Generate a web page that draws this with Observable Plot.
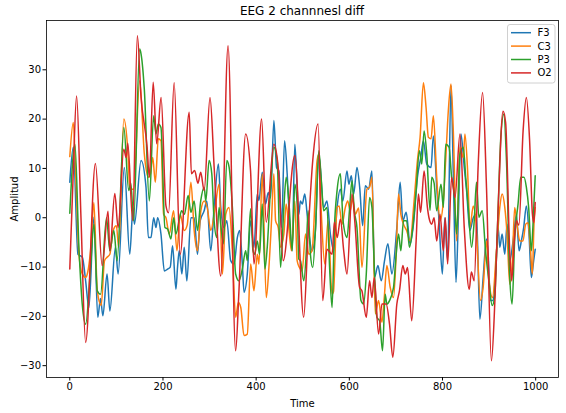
<!DOCTYPE html>
<html>
<head>
<meta charset="utf-8">
<script src="https://cdn.jsdelivr.net/npm/d3@7"></script>
<script src="https://cdn.jsdelivr.net/npm/@observablehq/plot@0.6"></script>
<style>
  body { margin: 0; background: #fff; font-family: "DejaVu Sans", sans-serif; }
  #wrap { position: relative; width: 566px; height: 413px; }
  #title { position: absolute; left: 46px; width: 512px; top: 4px; text-align: center; font-size: 12px; color: #000; }
  #chart { position: absolute; left: 0; top: 20px; }
  #legend { position: absolute; left: 0; top: 0; pointer-events: none; }
</style>
</head>
<body>
<div id="wrap">
  <div id="title">EEG 2 channnesl diff</div>
  <div id="chart"></div>
  <svg id="legend" width="566" height="413"></svg>
</div>
<script>
const seriesNames = ["F3", "C3", "P3", "O2"];
const seriesColors = ["#1f77b4", "#ff7f0e", "#2ca02c", "#d62728"];
const xTicks = [0, 200, 400, 600, 800, 1000];
const yTicks = [-30, -20, -10, 0, 10, 20, 30];

const F3 = [[0,7.2],[7.5,14.3],[17.5,-7.4],[27,-8],[34,-12.8],[41,-18.2],[51.7,0.1],[60,-20.2],[66,-16.4],[71,-19.9],[80,-11.4],[86,-18.9],[98,-6],[103.7,-11.4],[117,10.2],[128.7,-7.4],[135.8,2.1],[138.7,-1.3],[153,11.6],[163.6,6.2],[168.6,-4],[174.3,-4],[180,0],[185,-2],[188.5,0],[195.7,-3.3],[203,-10.8],[210,-10.4],[215.6,-10],[220.6,-5.7],[227.8,-14.5],[231.3,-10],[235,-6.7],[240.6,-11.4],[245.6,-6],[251.3,-12.8],[260,0],[267,0],[274,-7.4],[280,-0.6],[288.4,1.4],[294,3.4],[302.6,-6.7],[309.8,2.1],[319,10.9],[324,2.1],[331,-2],[337,-0.6],[345.4,-8.7],[352.5,-9.4],[359.7,-4],[364.6,-2.6],[370.4,-9.4],[374,-15.1],[381,-11.4],[388.2,-0.6],[395.3,-6],[402.4,4.8],[406,3.5],[413.1,9.2],[420.3,2.8],[426,5.1],[431,4],[438.1,19.7],[443.8,10.2],[448.8,9.5],[454.5,-2],[461,15.6],[466.6,8.9],[471.6,-0.6],[477.3,-6.7],[483,14.9],[488,6.2],[491.6,0.7],[495,3.4],[499,2.8],[504.4,4.8],[509.4,0.7],[514.4,-4],[520.1,-6.7],[527.2,-2.6],[534.4,12.9],[545,2.1],[552,3.4],[559.3,-3.3],[566.5,-6.7],[573.7,2.1],[580.8,5.8],[586,3.4],[595,9.5],[599,6.8],[604.3,8.5],[609.3,4.8],[616.4,10.2],[622.2,6.2],[628.6,-1.6],[634.3,6.5],[641.4,5.8],[648.5,9.5],[654.2,-12.1],[661.4,-9.7],[668.5,-12.8],[675.6,-8.7],[682.8,-5.3],[691.3,-11.4],[702,-2],[709.1,7.2],[714.8,-0.6],[722,1.1],[730.5,-5.3],[737.7,-1.3],[746.2,8.2],[753.3,12.2],[759,15.6],[766.2,10.9],[775.4,10.2],[780.4,16.6],[787.6,6.2],[792.6,-0.6],[799.7,-11.4],[805,0],[811,-8.7],[818.2,26.8],[823.2,8.9],[829,-13.1],[834,0],[839.6,17],[846.7,10.2],[851.7,5.5],[858.8,-2.6],[866,0],[873,0.7],[880.2,-20.6],[887.3,-12.1],[894.5,-4.3],[898,-7.4],[903,-16.8],[908.7,-16.8],[914,-11],[919.4,-2],[923,-6],[928,-3.3],[933.7,-7.4],[938.6,-1.3],[944.4,-8.7],[951.5,-4.7],[958.6,0.7],[964.3,-6.7],[969.3,-4.7],[974.3,-2],[980,2.4],[985.7,-3.3],[990.7,-12.1],[995.7,-8.7],[999,-6.4]];

const C3 = [[0,12.4],[7.5,19.3],[13,8],[19.6,-7.4],[26.7,-11.4],[34,-12.1],[39,-10.8],[44.5,-6.7],[51.7,3.1],[59,-14.8],[67.4,-17.8],[74.5,-8.7],[80,-8],[86,-7.4],[93,-2.6],[100,-1.6],[105,-6],[116,20],[124.5,13.6],[128.7,6.2],[133,5.8],[137,5.8],[150,27.8],[160,12.9],[168.6,8.2],[173,8.8],[178,12.2],[183.6,7.2],[190,16],[195.7,15.6],[201.4,0.7],[206.4,0],[213.5,-3.3],[222.8,1.4],[230,-6.7],[237,0.7],[245.6,-2.6],[252,-1.5],[260,7.2],[267,-2.6],[274,-6.7],[281.3,1.4],[288.4,3.4],[295.5,1.8],[302.6,-2.6],[311,1.4],[320.5,6.8],[327.6,-11.4],[334.7,0.7],[341.8,2.1],[349,-6.7],[356,-20.2],[361.8,-17.2],[367,-18.2],[374,-23.9],[381,-23.6],[388.2,-9.4],[395.3,-14.8],[402.4,-7.4],[406,-9.4],[413.1,8.9],[421.7,-16.2],[427.4,-10.1],[433,-0.6],[438,8.9],[441.7,-0.6],[447.4,-2],[452.4,-6],[459.5,-3.3],[464.5,2.8],[470,-2],[475.9,-6.7],[483,3.4],[488,-8.7],[493,-10.1],[498.7,-10.8],[506,-3.3],[513,-7.4],[520,-6.7],[530.8,11.6],[534.4,12.9],[540,0.7],[547.2,-9.4],[554.3,-0.6],[562.9,-15.5],[566,-15],[573.7,2.1],[578,2.4],[584.4,-1.3],[591.5,2.1],[596.5,3.4],[602,1.4],[607,4],[613,0.7],[620,2],[627.1,-10.1],[637.8,5.8],[643.5,6.2],[648.5,8.2],[655.7,-19.5],[662.8,-16.8],[670,-21.2],[675,-16.2],[680.6,-9.7],[687.7,-14.1],[694.9,-16.2],[700.6,-7.4],[705.6,4.8],[710.6,0.7],[716.3,-1.3],[723,-2.6],[730.5,-4.7],[739,3.4],[746.2,11.6],[751.9,16.3],[759,27.4],[764.7,22.4],[769.7,16.3],[775.4,16],[780.4,20.7],[787.6,8.2],[794.7,-0.6],[801.8,3.4],[806.8,11.6],[812.5,21.7],[818.2,27.1],[823.2,17.6],[830.3,-4.7],[837.5,14.3],[844.6,12.2],[848.2,17],[853.9,9.5],[858.9,-2],[866,2.4],[871.6,-0.6],[881.6,-16.8],[887.3,-14.1],[894.5,-4.7],[900,-12.8],[907.3,-16.2],[915.8,-6.7],[923,2.1],[928,4.8],[933.7,2.1],[938.6,-3.3],[944.4,-13.5],[950,-8.7],[955,2.1],[960,-1.3],[965.8,-4.7],[972.8,-4.7],[978.6,-1.3],[983.6,-1],[988.6,-6],[992.8,-11.4],[996.4,-1.3],[999,2.1]];

const P3 = [[0,0.9],[11,14.9],[19.6,-6],[26.7,-17.5],[34,-21.6],[44.5,-10.1],[51.7,-1.3],[59,-14.8],[66,-15.5],[78.8,0],[86,-6.7],[94.5,-2.6],[101.6,-8.7],[116,18.3],[126.5,5.5],[131,7],[137,-0.6],[150,34.2],[153,33.2],[160,26],[170.7,3.4],[180,20.7],[185,17],[190,19],[195.7,18.3],[204.2,-2],[210,-2.3],[217,-4.3],[223,0],[227.8,-3.3],[235,-0.3],[240,1.4],[246,0.7],[254,4.5],[260,1.1],[267,3.4],[274,-2.6],[281,3.4],[288.4,6.2],[292,3.4],[299,11.6],[304.8,8.9],[309.8,-0.6],[315.5,-4],[320.5,2.1],[324,-1.3],[329.7,-5.3],[337,11.6],[342,10.2],[349,2.1],[356,-11.4],[363.2,-12.8],[370.4,-10.4],[377.5,-6.7],[381,-8.7],[388.2,1.8],[393.2,-6.7],[397,-7.4],[402.4,-4.7],[407.4,-7.4],[413.1,2.8],[418.8,-10.4],[423.8,-6],[431,6.2],[438,14.3],[445.2,11.6],[452.4,-10.1],[459.5,2.1],[464.5,8.2],[470.2,3.4],[477.3,-6.7],[483,6.8],[488,2.8],[491.6,-8.4],[495,-8.7],[502.3,-12.8],[507.3,-7.4],[511.5,1.4],[516.5,-7.4],[521.5,-10.1],[528,-1],[534.4,13.6],[540,7.5],[545,1.4],[552,2.1],[558,-10.8],[563,-18.2],[568,-2],[573.7,5.5],[580.8,8.9],[586.5,-0.6],[595,-4],[600.8,2.1],[605.7,7.5],[610.7,1.4],[616.4,-2],[625,-16.8],[630.7,-17.5],[636.4,-11.4],[643.5,4.1],[648.5,2.1],[654.2,-11.4],[659.2,-20.2],[665,-20.9],[671.3,-27],[677,-15.5],[680.6,-17.5],[686.3,-16.8],[694.9,-14.1],[700.6,-7.4],[705.6,-3.3],[710.6,-6.7],[716.3,-0.6],[723,-0.6],[729,-6],[736.2,-2],[743.4,5.5],[750.5,13.6],[755.5,10.9],[760.5,17.6],[766.2,12.9],[773.3,1.5],[776.9,8.2],[782,7],[787.6,1.4],[796.8,6.8],[801.8,2.1],[806.8,14.9],[814,14.3],[819.6,8.2],[825,5],[830.3,-3.3],[837.5,12.9],[844.6,14.3],[850,8],[855.3,2.1],[862.4,-6],[868.1,-0.6],[873,7.2],[878.1,0.1],[885.2,1.4],[892.4,-6.7],[899.5,-12.8],[906.6,-17.8],[912,-16],[918,-2],[925.2,16.3],[931.6,21],[937.3,11.6],[944.4,-12.1],[949.4,-17.5],[955.1,-4],[962.2,2.8],[968,8.2],[975,8.2],[980,6.2],[985,2],[990.7,-6.7],[994,-2],[999,8.5]];

const O2 = [[0,-10.4],[7,8],[14.6,24.7],[24,0],[34,-25.3],[55,11],[69.5,-9.7],[82,1.3],[86,-6.7],[96.6,4.9],[103.7,-2],[115.9,13.9],[121,12.2],[124.5,15.1],[135,-0.6],[145,36.9],[153,24.4],[166,14.3],[170.7,8.2],[179,27.5],[186.5,15],[196,24.4],[206.4,2.4],[212,1],[224,27.4],[237,-7.4],[256.3,21.4],[261,8.9],[268,9.6],[275,7],[281,9.2],[288.4,5.5],[301,24.4],[310,10],[324,-11.8],[339.7,34.9],[356,-27],[363,-15],[377.5,17],[388,9.5],[395.3,-9.4],[411.7,20],[421.7,-0.9],[438,14.9],[448,9.5],[458,-8.7],[483,12.6],[502,-20.2],[511.5,-3.3],[521.5,11.6],[533,19],[543,-16.8],[552,-6.4],[563,-7.4],[568,-0.9],[574,-4],[580.8,-0.3],[588,-6.7],[595,-11.4],[605.7,4.8],[612,-1],[622,-14.1],[627,-14.8],[636.4,-20.2],[643.5,-12.8],[648.5,-16.2],[653.5,-12.1],[662.8,-23.6],[670,-17.5],[679,-17.5],[686.3,-21.6],[693.4,-28.3],[702,-17.5],[707.7,-14.8],[714.8,-9.7],[720,-11.4],[725,-10.1],[734,-20.9],[743.4,-4.7],[748.3,4.8],[753,1.1],[760.5,9.5],[767.6,2.1],[771,0],[776.9,-1.3],[782,0],[787.6,-4.7],[794.7,0.7],[801.8,-6.7],[806,0],[811,-9.4],[819.6,8.2],[826.8,4.1],[837.5,17],[846.7,-2],[857.4,-14.5],[862,-11],[868,-12.8],[876.7,10.9],[886,25.4],[894.5,6],[905,-29],[912.3,-17.2],[919.5,2.1],[930,21.6],[935.5,19.3],[944.4,-7],[948.5,-12.8],[953.7,-5.3],[958.6,-0.6],[964,-1.5],[973,17.6],[980,24.4],[987,15.6],[993,0.7],[996,-1],[999,3.1]];

const seriesData = [F3, C3, P3, O2];
const rows = seriesData.flatMap((arr, i) => arr.map(([t, v]) => ({s: seriesNames[i], t, v})));

const minus = d => d < 0 ? "\u2212" + Math.abs(d) : String(d);

const chart = Plot.plot({
  width: 566,
  height: 393,
  marginLeft: 46,
  marginRight: 8,
  marginTop: 0,
  marginBottom: 36,
  style: {fontFamily: "DejaVu Sans, sans-serif", fontSize: "10px", color: "#000", background: "#fff", overflow: "visible"},
  x: {domain: [-50, 1049], ticks: xTicks, tickFormat: minus, tickSize: 3.5, label: null},
  y: {domain: [-32.4, 40], ticks: yTicks, tickFormat: minus, tickSize: 3.5, label: null},
  color: {domain: seriesNames, range: seriesColors},
  marks: [
    Plot.line(rows, {x: "t", y: "v", z: "s", stroke: "s", curve: "monotone-x", strokeWidth: 1.5, clip: true}),
    Plot.frame({stroke: "#000", strokeWidth: 0.8}),
    Plot.axisX({ticks: xTicks, tickFormat: minus, tickSize: 3.5, tickPadding: 2, label: "Time", labelAnchor: "center", labelArrow: "none", labelOffset: 29, fontSize: 10}),
    Plot.axisY({ticks: yTicks, tickFormat: minus, tickSize: 3.5, tickPadding: 2, label: "Amplitud", labelAnchor: "center", labelArrow: "none", labelOffset: 36, fontSize: 10})
  ]
});
document.getElementById("chart").appendChild(chart);

// legend (upper right, matplotlib style)
const leg = d3.select("#legend");
leg.append("rect").attr("x", 507.5).attr("y", 24.5).attr("width", 47.5).attr("height", 58.5)
  .attr("rx", 2.5).attr("fill", "rgba(255,255,255,0.8)").attr("stroke", "#d0d0d0").attr("stroke-width", 1);
seriesNames.forEach((name, i) => {
  const y = 32.7 + i * 13.4;
  leg.append("line").attr("x1", 511).attr("x2", 531).attr("y1", y).attr("y2", y)
    .attr("stroke", seriesColors[i]).attr("stroke-width", 1.5);
  leg.append("text").attr("x", 537.5).attr("y", y).attr("dy", "0.35em")
    .attr("font-family", "DejaVu Sans, sans-serif").attr("font-size", 10).attr("fill", "#000").text(name);
});
</script>
</body>
</html>
